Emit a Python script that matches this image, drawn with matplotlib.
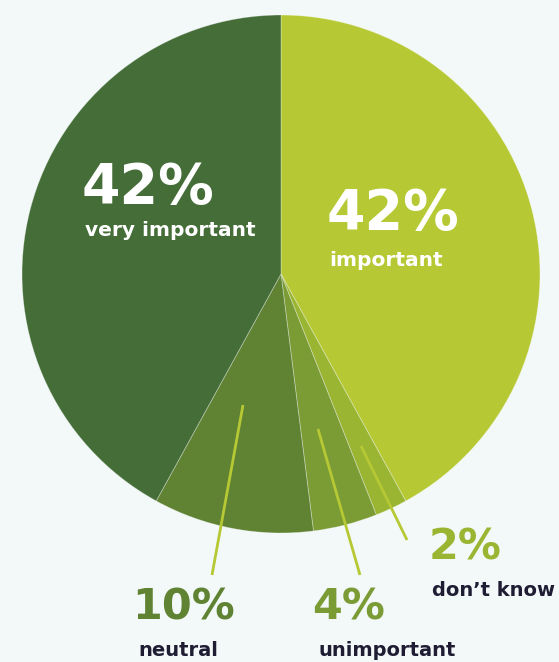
import matplotlib.pyplot as plt

# data, clockwise from top
labels = ["important", "don\u2019t know", "unimportant", "neutral", "very important"]
values = [42, 2, 4, 10, 42]
colors = ["#b6c934", "#9ab532", "#7b9c35", "#5f8333", "#446d38"]

W, H = 559, 662
fig = plt.figure(figsize=(W / 100, H / 100), dpi=100)
fig.patch.set_facecolor("#f3f8f9")
ax = fig.add_axes([0, 0, 1, 1])

cx, cy, r = 281, H - 274, 259
ax.pie(values, colors=colors, startangle=90, counterclock=False,
       center=(cx, cy), radius=r, frame=True,
       wedgeprops=dict(edgecolor=(1, 1, 1, 0.35), linewidth=0.6))
ax.set_xlim(0, W)
ax.set_ylim(0, H)
ax.axis("off")

fam = ["DejaVu Sans"]
dark = "#1f1d33"
line_c = "#b6c934"

# leader lines (pixel coords, y from top)
leaders = [((243, 405), (212, 575)),
           ((318, 429), (360, 575)),
           ((361, 446), (407, 540))]
for (x0, y0), (x1, y1) in leaders:
    ax.plot([x0, x1], [H - y0, H - y1], color=line_c, lw=2, solid_capstyle="butt")

# big labels inside
ax.text(82, H - 188, "42%", color="white", fontsize=40, fontweight="bold",
        family=fam, ha="left", va="center")
ax.text(85, H - 231, "very important", color="white", fontsize=14.5, fontweight="bold",
        family=fam, ha="left", va="center")
ax.text(327, H - 214, "42%", color="white", fontsize=40, fontweight="bold",
        family=fam, ha="left", va="center")
ax.text(329, H - 260, "important", color="white", fontsize=14.5, fontweight="bold",
        family=fam, ha="left", va="center")

# outside labels
ax.text(184, H - 607, "10%", color=colors[3], fontsize=31, fontweight="bold",
        family=fam, ha="center", va="center")
ax.text(178, H - 650, "neutral", color=dark, fontsize=14, fontweight="bold",
        family=fam, ha="center", va="center")
ax.text(349, H - 608, "4%", color=colors[2], fontsize=31, fontweight="bold",
        family=fam, ha="center", va="center")
ax.text(387, H - 651, "unimportant", color=dark, fontsize=14, fontweight="bold",
        family=fam, ha="center", va="center")
ax.text(465, H - 548, "2%", color=colors[1], fontsize=31, fontweight="bold",
        family=fam, ha="center", va="center")
ax.text(493, H - 590, "don\u2019t know", color=dark, fontsize=14, fontweight="bold",
        family=fam, ha="center", va="center")

fig.savefig("out.png", dpi=100, facecolor=fig.get_facecolor())
